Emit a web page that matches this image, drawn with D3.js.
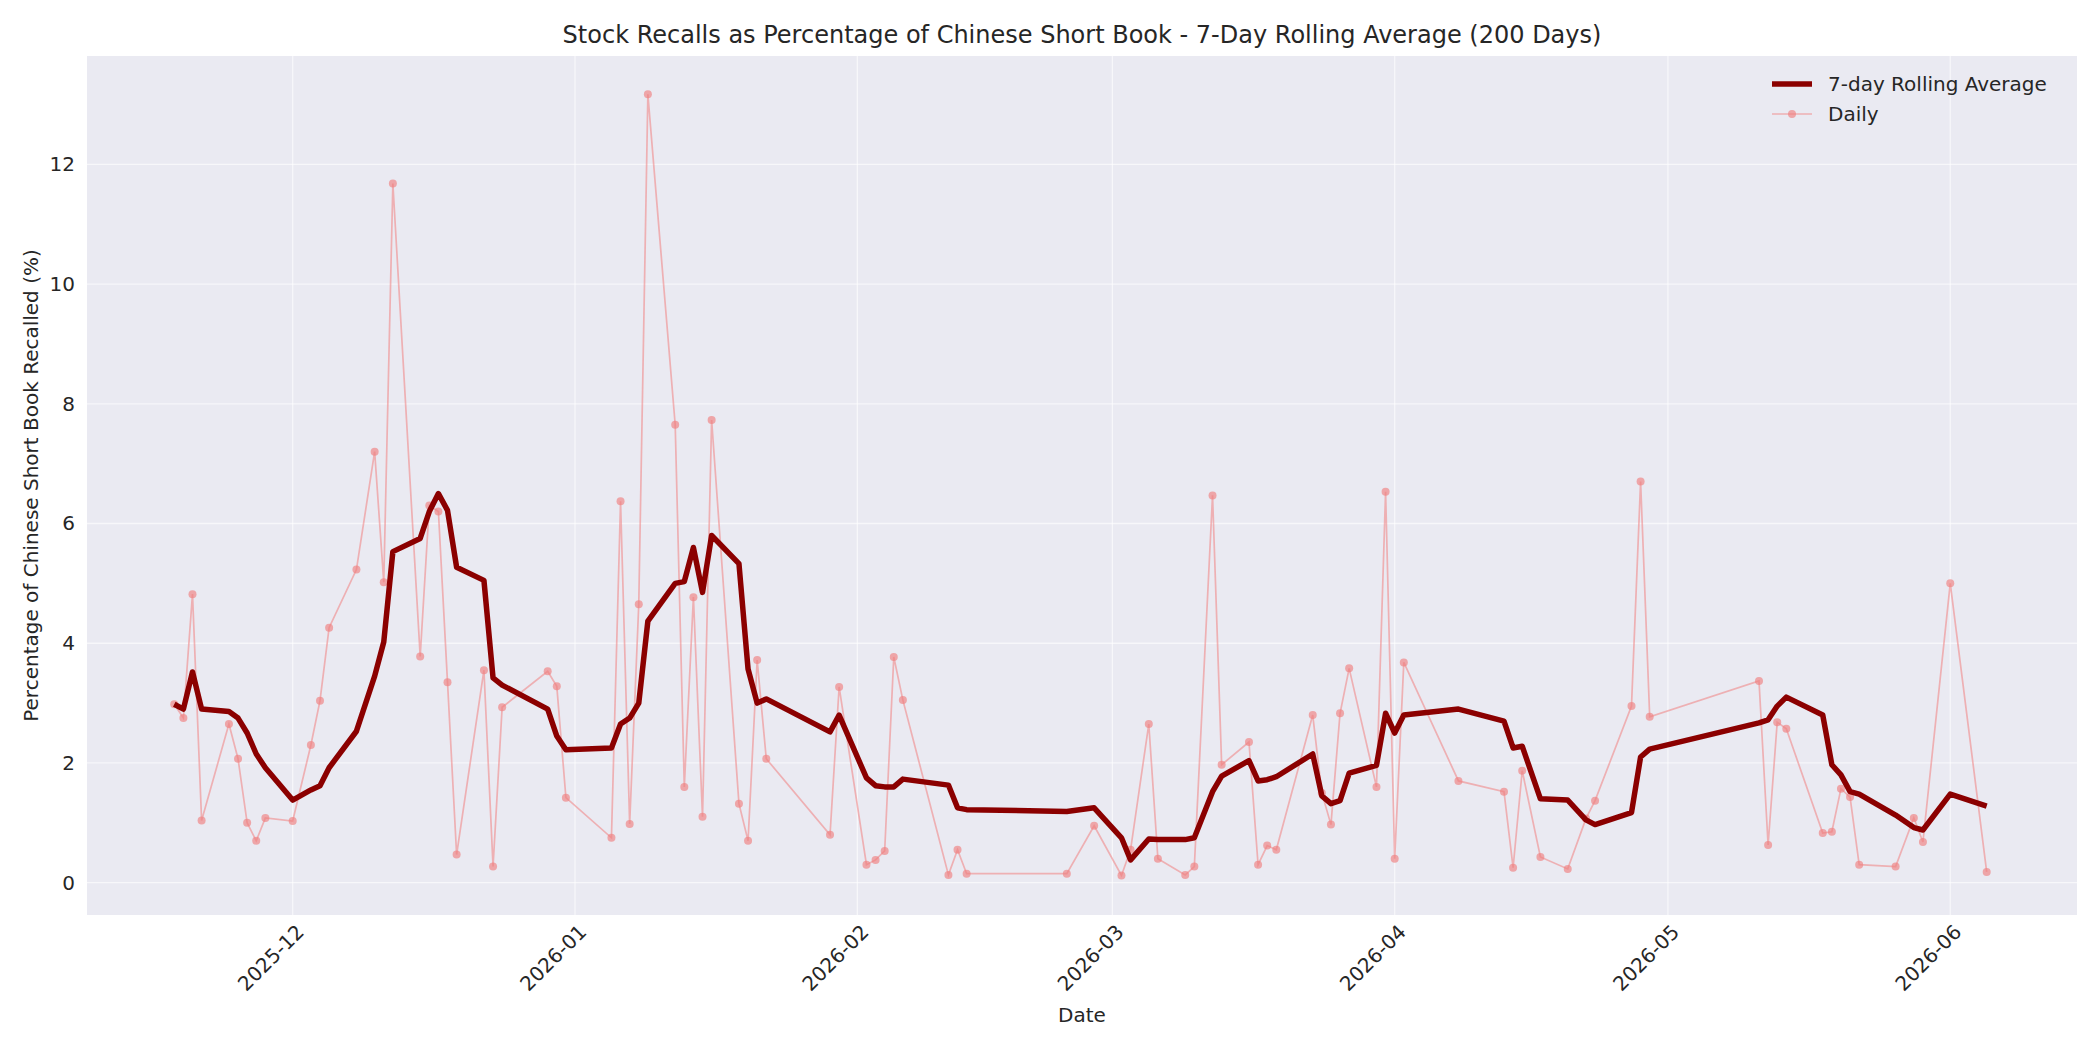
<!DOCTYPE html>
<html>
<head>
<meta charset="utf-8">
<script src="https://cdn.jsdelivr.net/npm/d3@7"></script>
<style>
  body { margin: 0; background: #fff; }
  text { font-family: "DejaVu Sans", sans-serif; fill: #262626; }
</style>
</head>
<body>
<script>
// dates of each observation (trading days)
var dates = [
  "2025-11-18","2025-11-19","2025-11-20","2025-11-21","2025-11-24","2025-11-25","2025-11-26","2025-11-27","2025-11-28",
  "2025-12-01","2025-12-03","2025-12-04","2025-12-05","2025-12-08","2025-12-10","2025-12-11","2025-12-12",
  "2025-12-15","2025-12-16","2025-12-17","2025-12-18","2025-12-19","2025-12-22","2025-12-23","2025-12-24",
  "2025-12-29","2025-12-30","2025-12-31","2026-01-05","2026-01-06","2026-01-07","2026-01-08","2026-01-09",
  "2026-01-12","2026-01-13","2026-01-14","2026-01-15","2026-01-16","2026-01-19","2026-01-20","2026-01-21","2026-01-22",
  "2026-01-29","2026-01-30","2026-02-02","2026-02-03","2026-02-04","2026-02-05","2026-02-06",
  "2026-02-11","2026-02-12","2026-02-13","2026-02-24","2026-02-27","2026-03-02","2026-03-03","2026-03-05","2026-03-06",
  "2026-03-09","2026-03-10","2026-03-12","2026-03-13","2026-03-16","2026-03-17","2026-03-18","2026-03-19",
  "2026-03-23","2026-03-24","2026-03-25","2026-03-26","2026-03-27","2026-03-30","2026-03-31","2026-04-01","2026-04-02",
  "2026-04-08","2026-04-13","2026-04-14","2026-04-15","2026-04-17","2026-04-20","2026-04-22","2026-04-23",
  "2026-04-27","2026-04-28","2026-04-29","2026-05-11","2026-05-12","2026-05-13","2026-05-14",
  "2026-05-18","2026-05-19","2026-05-20","2026-05-21","2026-05-22","2026-05-26","2026-05-28","2026-05-29",
  "2026-06-01","2026-06-05"
];
var daily = [
  2.98,2.75,4.82,1.04,2.65,2.07,1.0,0.7,1.08,
  1.03,2.3,3.04,4.26,5.23,7.2,5.02,11.68,
  3.78,6.3,6.2,3.35,0.47,3.55,0.27,2.93,
  3.53,3.28,1.42,0.75,6.37,0.98,4.65,13.17,
  7.65,1.6,4.77,1.1,7.73,1.32,0.7,3.72,2.07,
  0.8,3.27,0.3,0.38,0.53,3.77,3.05,
  0.13,0.55,0.15,0.15,0.95,0.12,0.55,2.65,0.4,
  0.13,0.27,6.47,1.97,2.35,0.3,0.62,0.55,
  2.8,1.5,0.97,2.83,3.58,1.6,6.53,0.4,3.68,
  1.7,1.52,0.25,1.87,0.43,0.23,1.07,1.37,
  2.95,6.7,2.77,3.37,0.63,2.68,2.57,
  0.83,0.85,1.57,1.43,0.3,0.27,1.08,0.68,
  5.0,0.18
];
var rolling = [
  2.98,2.9,3.52,2.9,2.86,2.75,2.5,2.15,1.92,
  1.38,1.55,1.62,1.92,2.53,3.45,4.02,5.53,
  5.75,6.2,6.5,6.22,5.27,5.05,3.42,3.3,
  2.9,2.45,2.22,2.25,2.65,2.75,3.0,4.37,
  5.0,5.03,5.6,4.85,5.8,5.33,3.57,3.0,3.07,
  2.52,2.8,1.75,1.62,1.6,1.6,1.73,
  1.63,1.25,1.22,1.19,1.25,0.75,0.38,0.73,0.72,
  0.72,0.75,1.52,1.78,2.04,1.7,1.72,1.77,
  2.15,1.45,1.32,1.37,1.83,1.96,2.83,2.5,2.8,
  2.9,2.7,2.25,2.28,1.4,1.38,1.05,0.97,
  1.17,2.1,2.23,2.67,2.72,2.95,3.1,
  2.8,1.97,1.8,1.52,1.48,1.13,0.92,0.88,
  1.48,1.28
];
var xTicks = ["2025-12-01","2026-01-01","2026-02-01","2026-03-01","2026-04-01","2026-05-01","2026-06-01"];
var yTicks = [0, 2, 4, 6, 8, 10, 12];

var W = 2100, H = 1050;
var m = { left: 87, right: 23, top: 56, bottom: 135 };
var parse = d3.utcParse("%Y-%m-%d");
var rows = dates.map(function(d, i) { return { date: parse(d), daily: daily[i], roll: rolling[i] }; });

var svg = d3.select("body").append("svg").attr("width", W).attr("height", H);

var x = d3.scaleUtc()
  .domain([d3.utcParse("%Y-%m-%d %H")("2025-11-08 10"), d3.utcParse("%Y-%m-%d %H")("2026-06-14 22")])
  .range([m.left, W - m.right]);
var y = d3.scaleLinear()
  .domain([-0.54, 13.81])
  .range([H - m.bottom, m.top]);

svg.append("rect")
  .attr("x", m.left).attr("y", m.top)
  .attr("width", W - m.left - m.right).attr("height", H - m.top - m.bottom)
  .attr("fill", "#EAEAF2");

// grid
svg.append("g").selectAll("line").data(yTicks).enter().append("line")
  .attr("x1", m.left).attr("x2", W - m.right)
  .attr("y1", function(d) { return y(d); }).attr("y2", function(d) { return y(d); })
  .attr("stroke", "#fff").attr("stroke-opacity", 0.6).attr("stroke-width", 1.3);
svg.append("g").selectAll("line").data(xTicks).enter().append("line")
  .attr("x1", function(d) { return x(parse(d)); }).attr("x2", function(d) { return x(parse(d)); })
  .attr("y1", m.top).attr("y2", H - m.bottom)
  .attr("stroke", "#fff").attr("stroke-opacity", 0.6).attr("stroke-width", 1.3);

// axes
var yAxis = svg.append("g").attr("transform", "translate(" + m.left + ",0)")
  .call(d3.axisLeft(y).tickValues(yTicks).tickSize(0).tickPadding(12));
yAxis.select(".domain").remove();
yAxis.selectAll("text").style("font-size", "20px").attr("fill", "#262626");

var xAxis = svg.append("g").attr("transform", "translate(0," + (H - m.bottom) + ")")
  .call(d3.axisBottom(x).tickValues(xTicks.map(parse)).tickFormat(d3.utcFormat("%Y-%m")).tickSize(0));
xAxis.select(".domain").remove();
xAxis.selectAll("text")
  .style("font-size", "20px").attr("fill", "#262626")
  .style("text-anchor", "end")
  .attr("dx", 0).attr("dy", 0)
  .attr("transform", "translate(10,16) rotate(-45)");

// daily series
svg.append("path").datum(rows)
  .attr("fill", "none").attr("stroke", "#F08080").attr("stroke-opacity", 0.55).attr("stroke-width", 1.7)
  .attr("d", d3.line().x(function(d) { return x(d.date); }).y(function(d) { return y(d.daily); }));
svg.append("g").selectAll("circle").data(rows).enter().append("circle")
  .attr("cx", function(d) { return x(d.date); }).attr("cy", function(d) { return y(d.daily); })
  .attr("r", 4).attr("fill", "#F08080").attr("fill-opacity", 0.65);

// rolling average
svg.append("path").datum(rows)
  .attr("fill", "none").attr("stroke", "#8B0000").attr("stroke-width", 5.5).attr("stroke-linejoin", "round")
  .attr("d", d3.line().x(function(d) { return x(d.date); }).y(function(d) { return y(d.roll); }));

// title & labels
svg.append("text").attr("x", (m.left + W - m.right) / 2).attr("y", 43)
  .attr("text-anchor", "middle").style("font-size", "24px")
  .text("Stock Recalls as Percentage of Chinese Short Book - 7-Day Rolling Average (200 Days)");
svg.append("text").attr("x", (m.left + W - m.right) / 2).attr("y", 1022)
  .attr("text-anchor", "middle").style("font-size", "20px").text("Date");
svg.append("text").attr("transform", "translate(38," + ((m.top + H - m.bottom) / 2) + ") rotate(-90)")
  .attr("text-anchor", "middle").style("font-size", "20px")
  .text("Percentage of Chinese Short Book Recalled (%)");

// legend
var lg = svg.append("g").attr("transform", "translate(1772,84)");
lg.append("line").attr("x1", 0).attr("x2", 40).attr("y1", 0).attr("y2", 0)
  .attr("stroke", "#8B0000").attr("stroke-width", 5.5);
lg.append("text").attr("x", 56).attr("y", 7).style("font-size", "20px").text("7-day Rolling Average");
lg.append("line").attr("x1", 0).attr("x2", 40).attr("y1", 30).attr("y2", 30)
  .attr("stroke", "#F08080").attr("stroke-opacity", 0.55).attr("stroke-width", 1.7);
lg.append("circle").attr("cx", 20).attr("cy", 30).attr("r", 4).attr("fill", "#F08080").attr("fill-opacity", 0.65);
lg.append("text").attr("x", 56).attr("y", 37).style("font-size", "20px").text("Daily");
</script>
</body>
</html>
